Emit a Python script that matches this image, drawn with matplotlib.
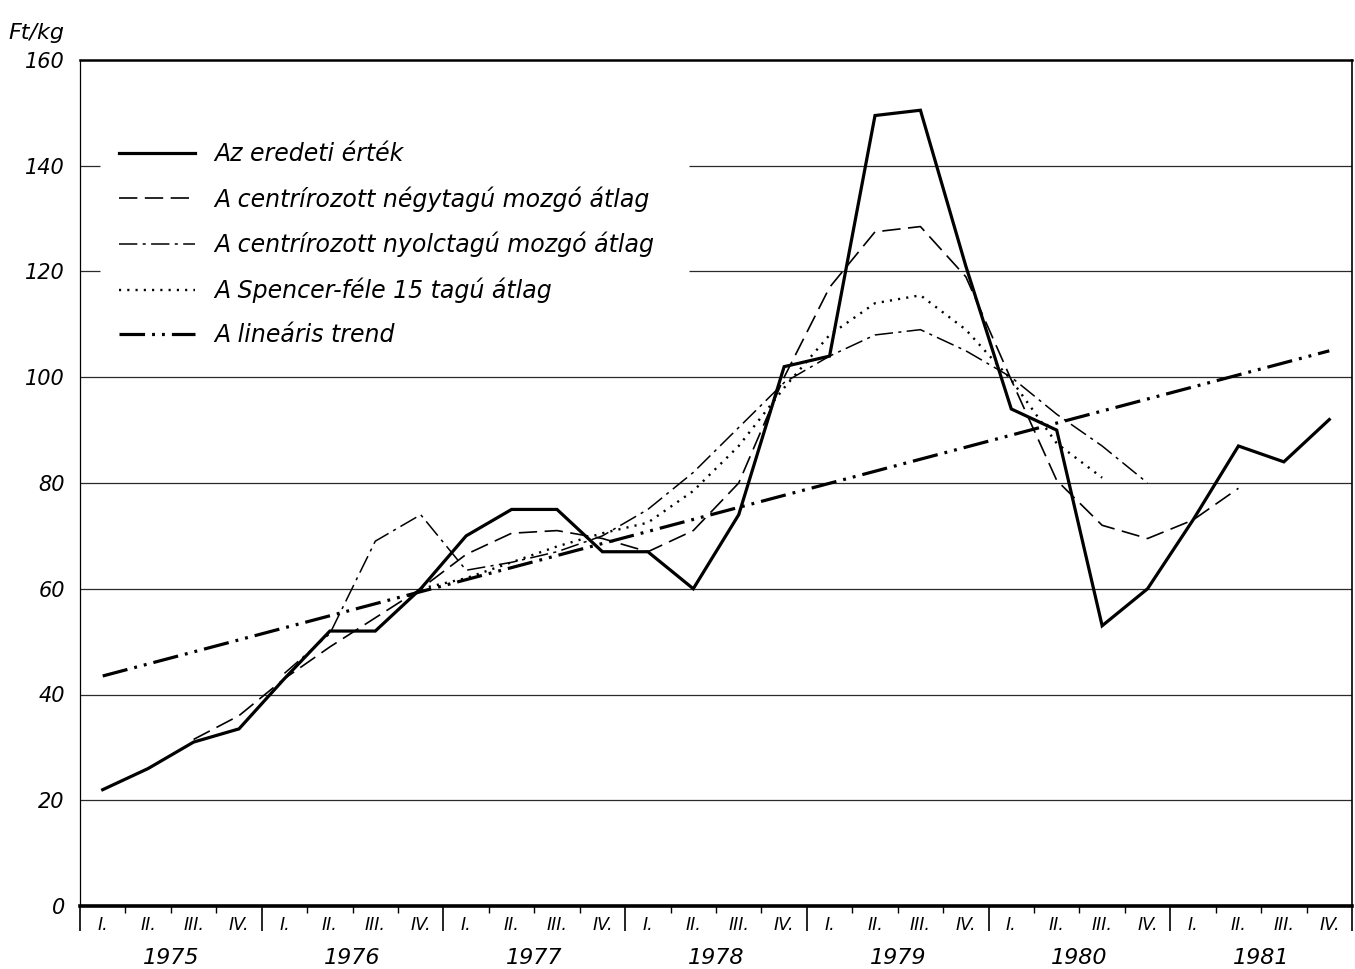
import matplotlib
matplotlib.use('Agg')
import matplotlib.pyplot as plt
from matplotlib import font_manager
import numpy as np

# quarterly price series, Ft/kg, 1975 I. - 1981 IV.
years = [1975, 1976, 1977, 1978, 1979, 1980, 1981]
quarter_names = ['I.', 'II.', 'III.', 'IV.']

original = [22, 26, 31, 33.5, 43, 52, 52, 60, 70, 75, 75, 67,
            67, 60, 74, 102, 104, 149.5, 150.5, 121, 94, 90, 53, 60,
            73, 87, 84, 92]

# centred 4-term moving average, first value belongs to 1975 III.
ma4_first = 2
ma4 = [31.5, 36, 43, 49, 54.5, 60, 66.5, 70.5, 71, 69.5, 67, 71,
       80, 100, 117, 127.5, 128.5, 119, 99.5, 80.5, 72, 69.5, 73, 79]

# centred 8-term moving average, from 1976 I.
ma8_first = 4
ma8 = [44, 51.5, 69, 74, 63.5, 65, 67, 70, 75, 82, 90.5, 99,
       104, 108, 109, 105, 100, 93, 87, 80]

# Spencer 15-term average, from 1976 IV.
spencer_first = 7
spencer = [60, 62, 65, 68, 70.5, 72.5, 78.5, 87, 98, 108, 114, 115.5,
           109, 99.5, 87.5, 81]

# linear trend, value in the first and the last quarter
trend_first_last = [43.5, 105.0]

labels = ['Az eredeti érték',
          'A centrírozott négytagú mozgó átlag',
          'A centrírozott nyolctagú mozgó átlag',
          'A Spencer-féle 15 tagú átlag',
          'A lineáris trend']

W, H = 1355, 969
AX_LEFT, AX_RIGHT, AX_TOP, AX_BOTTOM = 80, 1352, 60, 906

available = {f.name for f in font_manager.fontManager.ttflist}
if 'Liberation Sans Narrow' in available:
    plt.rcParams['font.family'] = ['Liberation Sans Narrow', 'DejaVu Sans']
else:
    plt.rcParams['font.family'] = ['DejaVu Sans']
plt.rcParams['font.style'] = 'italic'


def qx(first, n):
    # x position of quarter centres; quarter k spans [k, k+1]
    return np.arange(first, first + n) + 0.5


fig = plt.figure(figsize=(W / 100, H / 100), dpi=100)
ax = fig.add_axes([AX_LEFT / W, 1 - AX_BOTTOM / H,
                   (AX_RIGHT - AX_LEFT) / W, (AX_BOTTOM - AX_TOP) / H])
n_q = len(years) * 4
ax.set_xlim(0, n_q)
ax.set_ylim(0, 160)

# horizontal rules; the two upper ones leave room for the key
grid_kw = dict(color='#2a2a2a', lw=0.9, zorder=1)
for v in (20, 40, 60, 80, 100):
    ax.axhline(v, **grid_kw)
for v in (120, 140):
    ax.hlines(v, 13.4, n_q, **grid_kw)
    ax.hlines(v, 0, 0.45, **grid_kw)

ax.plot(qx(0, len(original)), original, color='black', lw=2.3,
        solid_joinstyle='miter', label=labels[0], zorder=5)
ax.plot(qx(ma4_first, len(ma4)), ma4, color='black', lw=1.2,
        dashes=(11, 4.5), label=labels[1], zorder=4)
ax.plot(qx(ma8_first, len(ma8)), ma8, color='black', lw=1.1,
        dashes=(12, 3.5, 2, 3.5), label=labels[2], zorder=4)
ax.plot(qx(spencer_first, len(spencer)), spencer, color='black', lw=1.7,
        dashes=(0.9, 2.6), label=labels[3], zorder=4)
ax.plot([0.5, n_q - 0.5], trend_first_last, color='black', lw=2.3,
        dashes=(8, 2.2, 0.9, 2.2, 0.9, 2.2), label=labels[4], zorder=3)

for side, lw in (('bottom', 2.6), ('top', 1.8), ('left', 0.9), ('right', 1.2)):
    ax.spines[side].set_linewidth(lw)
    ax.spines[side].set_color('black')

ax.set_yticks(range(0, 161, 20))
ax.tick_params(axis='y', length=0, pad=11, labelsize=15)

ax.set_xticks(range(0, n_q + 1, 4))
ax.set_xticks([k for k in range(n_q + 1) if k % 4], minor=True)
ax.set_xticklabels([])
ax.tick_params(axis='x', which='major', direction='out', length=18, width=1.2)
ax.tick_params(axis='x', which='minor', direction='out', length=5, width=1.0)

xt = ax.get_xaxis_transform()
for k in range(n_q):
    ax.text(k + 0.5, -19 / (AX_BOTTOM - AX_TOP), quarter_names[k % 4],
            transform=xt, ha='center', va='center', fontsize=12.5)
for j, yr in enumerate(years):
    ax.text(4 * j + 2, -52 / (AX_BOTTOM - AX_TOP), str(yr),
            transform=xt, ha='center', va='center', fontsize=16)

fig.text(8 / W, 1 - 33 / H, 'Ft/kg', fontsize=16, va='center', ha='left')

ax.legend(loc='upper left', bbox_to_anchor=(0.031, 0.903), frameon=False,
          fontsize=17, handlelength=3.2, handletextpad=0.8,
          labelspacing=0.85, borderaxespad=0, borderpad=0)

fig.savefig('out.png', dpi=100, facecolor='white')
